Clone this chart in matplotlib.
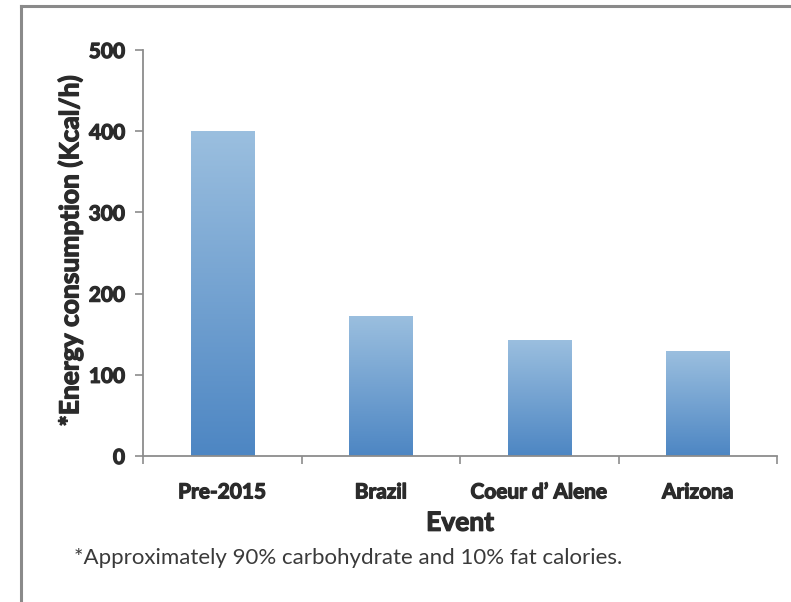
import numpy as np
import matplotlib
matplotlib.use("Agg")
import matplotlib.pyplot as plt
import matplotlib.patheffects as pe
from matplotlib.colors import LinearSegmentedColormap
from matplotlib.lines import Line2D

plt.rcParams['font.family'] = ['Lato', 'DejaVu Sans']

events = ["Pre-2015", "Brazil", "Coeur d\u2019 Alene", "Arizona"]
energy = [400, 173, 143, 129]
y_ticks = [0, 100, 200, 300, 400, 500]

fig = plt.figure(figsize=(7.91, 6.02), dpi=100)
ax = fig.add_axes([0.1808, 0.2425, 0.8015, 0.6744])

x = np.arange(len(events))
bars = ax.bar(x, energy, width=0.4, color="none", edgecolor="none", zorder=2)

# vertical gradient fill for each bar
cmap = LinearSegmentedColormap.from_list("barfill", ["#4d86c3", "#9bbfdf"])
grad = np.linspace(0, 1, 256).reshape(-1, 1)
for b in bars:
    x0, y0 = b.get_x(), b.get_y()
    w, h = b.get_width(), b.get_height()
    im = ax.imshow(grad, cmap=cmap, origin="lower", aspect="auto",
                   extent=[x0, x0 + w, y0, y0 + h], zorder=2)
    im.set_clip_path(b)

ax.set_xlim(-0.5, len(events) - 0.5)
ax.set_ylim(0, 500)
ax.set_yticks(y_ticks)
ax.set_xticks(x)
ax.set_xticklabels(events)
# category boundary ticks on the x axis
ax.set_xticks(np.arange(-0.5, len(events)), minor=True)
ax.tick_params(axis="x", which="major", length=0, pad=19)
ax.tick_params(axis="x", which="minor", length=6, width=1.2, color="#8c8c8c", direction="out")
ax.tick_params(axis="y", length=6, width=1.2, color="#8c8c8c", direction="out", pad=7)

heavy = [pe.withStroke(linewidth=0.9, foreground="#2b2b2b")]

for lab in ax.get_xticklabels() + ax.get_yticklabels():
    lab.set_fontsize(15)
    lab.set_fontweight("bold")
    lab.set_color("#2b2b2b")
    lab.set_path_effects(heavy)

for s in ["top", "right"]:
    ax.spines[s].set_visible(False)
for s in ["left", "bottom"]:
    ax.spines[s].set_color("#8c8c8c")
    ax.spines[s].set_linewidth(1.3)

ax.set_xlabel("Event", fontsize=19, fontweight="bold", color="#2b2b2b", labelpad=6,
              path_effects=heavy)
fig.text(0.0885, 0.583, "*Energy consumption (Kcal/h)", rotation=90, ha="center", va="center",
         fontsize=19, fontweight="bold", color="#2b2b2b", path_effects=heavy)

fig.text(0.094, 0.073, "*Approximately 90% carbohydrate and 10% fat calories.",
         fontsize=16, color="#3a3a3a", va="center", ha="left")

# outer frame (top and left edges)
fig.add_artist(Line2D([21 / 791, 21 / 791], [0, 1 - 6 / 602], transform=fig.transFigure,
                      color="#8a8a8a", linewidth=2.2))
fig.add_artist(Line2D([21 / 791, 1], [1 - 6 / 602, 1 - 6 / 602], transform=fig.transFigure,
                      color="#8a8a8a", linewidth=2.2))

fig.savefig("out.png", dpi=100)
